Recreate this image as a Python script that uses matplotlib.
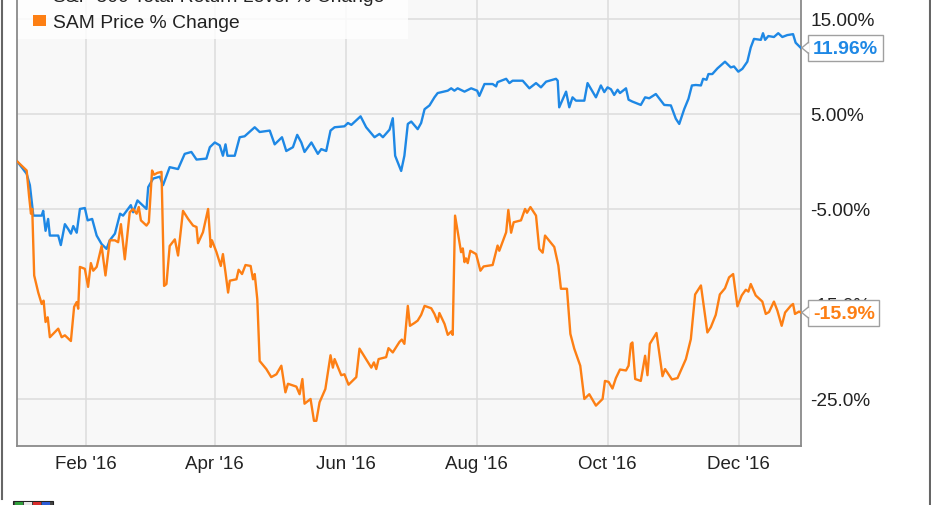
import numpy as np
import pandas as pd
import matplotlib
matplotlib.use("Agg")
import matplotlib.pyplot as plt
from matplotlib.patches import Rectangle, Polygon
from matplotlib.transforms import ScaledTranslation
from matplotlib.lines import Line2D

plt.rcParams['font.family'] = ['Liberation Sans', 'DejaVu Sans']

# ---------------- data (days since 2016-01-01, % change) ----------------
spx_days = [-1, 3.4, 4.9, 6.5, 10.4, 11.1, 12.2, 13.4, 14.2, 18.1, 19.3, 21.2, 22.7, 24.0, 25.1,
            26.7, 28.2, 30.5, 31.8, 33.9, 36.0, 38.3, 40.6, 42.1, 44.5, 46.9, 48.3, 51.9, 53.0,
            55.0, 59.2, 60.0, 62.3, 65.4, 66.9, 70.0, 73.9, 77.0, 80.1, 82.5, 87.1, 88.7, 91.0,
            93.3, 94.8, 96.0, 96.9, 100.3, 102.6, 104.9, 109.6, 111.9, 116.6, 118.9, 122.3,
            124.3, 127.4, 129.4, 131.3, 132.8, 136.0, 139.0, 140.6, 142.9, 144.9, 146.8, 151.4,
            153.0, 154.6, 158.9, 161.5, 165.4, 167.7, 169.3, 172.4, 173.9, 175.0, 177.8, 179.3,
            180.9, 182.5, 185.5, 187.1, 188.7, 191.0, 193.3, 194.8, 199.5, 201.1, 202.6, 204.1,
            207.3, 210.4, 213.2, 214.2, 216.6, 220.4, 222.0, 222.7, 226.7, 228.2, 229.7, 234.4,
            237.5, 240.6, 242.9, 245.3, 249.9, 250.7, 251.4, 254.6, 256.1, 257.6, 259.2, 263.1,
            264.6, 268.5, 270.8, 272.4, 273.9, 275.5, 277.0, 278.6, 279.7, 282.5, 283.7, 285.5,
            289.4, 291.4, 293.3, 296.4, 300.3, 303.4, 305.7, 307.3, 309.6, 311.6, 313.2, 315.0,
            317.4, 318.4, 320.0, 320.9, 322.7, 325.1, 328.6, 331.3, 332.8, 334.8, 336.7, 339.0,
            340.6, 342.1, 345.3, 346.3, 347.3, 348.8, 351.4, 353.4, 355.3, 357.6, 360.3, 361.5,
            363.9]
spx_vals = [0.0, -1.3, -2.5, -5.7, -5.7, -5.2, -7.3, -6.05, -7.8, -7.8, -8.8, -6.6, -7.1, -7.6, -6.8,
            -7.5, -5.0, -4.9, -6.2, -6.05, -7.8, -8.7, -9.2, -8.3, -7.6, -5.5, -5.7, -4.6, -5.35,
            -4.1, -5.0, -2.7, -1.8, -1.6, -2.5, -0.6, -0.8, 0.8, 1.0, 0.2, 0.3, 1.5, 2.0,
            1.7, 0.6, 1.8, 0.6, 0.6, 2.55, 2.65, 3.6, 3.1, 3.25, 1.8, 2.55,
            1.1, 1.5, 2.8, 2.0, 1.0, 2.0, 0.8, 1.3, 1.1, 3.25, 3.6, 3.7,
            4.05, 3.85, 4.75, 3.6, 2.55, 2.9, 2.55, 3.35, 4.55, 0.6, -1.0, 0.6,
            3.95, 4.2, 3.4, 4.05, 5.5, 5.9, 6.75, 7.2, 7.45, 7.7, 7.45, 7.7,
            7.35, 7.7, 7.45, 6.9, 8.15, 8.15, 7.9, 8.35, 8.7, 8.25, 8.5, 8.5,
            7.7, 8.25, 7.8, 8.4, 8.7, 8.5, 5.7, 7.35, 5.7, 6.75, 6.4, 6.4,
            8.25, 6.75, 8.0, 7.3, 7.8, 7.6, 7.0, 7.55, 7.2, 7.7, 6.5, 6.3,
            5.95, 6.75, 6.65, 7.1, 5.95, 5.9, 4.5, 3.95, 5.5, 6.6, 8.0, 8.05,
            8.0, 8.7, 8.6, 9.2, 9.2, 9.8, 10.5, 9.9, 10.0, 9.45, 9.75, 10.5,
            12.0, 12.9, 12.8, 13.5, 12.8, 13.2, 13.1, 13.5, 13.1, 13.3, 13.4, 12.5,
            11.96]

sam_days = [-1, 3.4, 4.5, 5.4, 6.0, 6.9, 8.8, 10.4, 11.3, 12.2, 13.2, 14.2, 18.1, 19.7, 21.2, 24.0,
            25.5, 26.7, 27.4, 28.2, 30.5, 32.0, 33.3, 34.4, 36.0, 38.3, 40.1, 42.1, 44.5, 46.0,
            47.3, 49.1, 51.4, 53.0, 54.6, 55.6, 56.6, 59.2, 60.3, 61.8, 62.7, 64.3, 66.2, 67.4,
            68.5, 70.0, 72.4, 73.9, 76.2, 78.6, 80.9, 82.5, 83.2, 85.5, 87.9, 89.1, 89.7, 91.8,
            93.8, 94.8, 96.0, 97.2, 98.0, 101.1, 102.1, 103.7, 105.3, 107.7, 108.8, 109.6, 110.8,
            111.9, 115.0, 117.3, 119.7, 122.0, 123.9, 125.1, 129.0, 130.5, 131.8, 132.8, 135.6,
            137.2, 138.3, 139.8, 142.5, 144.9, 146.0, 146.8, 149.9, 151.4, 153.3, 156.9, 158.4,
            163.9, 165.1, 166.2, 167.3, 170.8, 171.9, 173.9, 177.0, 178.1, 179.3, 180.9, 181.9,
            184.0, 185.5, 187.1, 188.7, 191.8, 193.3, 194.8, 195.6, 198.0, 199.5, 201.1, 201.8,
            202.9, 205.7, 206.5, 207.3, 208.0, 208.8, 210.0, 212.7, 214.7, 216.2, 220.4, 222.7,
            223.5, 226.7, 227.7, 229.0, 230.2, 233.6, 235.5, 236.4, 238.0, 240.6, 242.1, 243.7,
            244.8, 249.1, 251.0, 252.2, 255.0, 256.6, 258.4, 261.2, 263.1, 265.4, 268.5, 271.6,
            272.7, 274.4, 276.2, 277.8, 279.7, 282.5, 283.7, 284.8, 285.5, 286.8, 289.4, 291.4,
            292.5, 293.6, 296.7, 299.5, 300.7, 303.9, 306.5, 310.4, 312.7, 314.7, 317.4, 320.4,
            322.0, 324.3, 326.2, 328.6, 330.5, 332.4, 334.4, 336.4, 338.3, 339.5, 340.6, 342.9,
            346.0, 347.6, 349.1, 351.4, 353.0, 355.0, 356.6, 359.2, 360.3, 361.2, 363.1, 363.9]
sam_vals = [0.0, -0.95, -3.6, -5.5, -5.0, -12.0, -13.8, -15.0, -14.65, -16.9, -16.4, -18.5, -17.6, -18.5, -18.3, -18.9,
            -15.3, -14.8, -15.5, -11.1, -11.3, -13.2, -10.7, -11.5, -11.1, -8.9, -12.0, -8.3, -8.3, -8.5,
            -6.6, -10.3, -5.35, -5.0, -5.5, -4.8, -6.2, -6.75, -6.4, -0.95, -1.4, -1.2, -1.1, -13.1,
            -12.9, -8.9, -8.2, -9.9, -5.2, -6.05, -6.75, -6.9, -8.6, -7.45, -5.0, -9.0, -8.3, -9.55,
            -11.0, -9.75, -11.7, -13.8, -12.55, -12.4, -11.4, -11.85, -10.9, -11.0, -12.4, -11.85, -14.5,
            -21.0, -21.85, -22.7, -22.4, -21.5, -24.3, -23.4, -23.7, -24.5, -22.9, -25.5, -25.0,
            -27.3, -27.3, -25.35, -23.95, -20.4, -21.7, -20.8, -22.5, -22.4, -23.5, -22.7, -19.7,
            -21.7, -21.15, -21.85, -20.8, -20.6, -19.65, -20.1, -19.0, -18.75, -19.2, -15.2, -17.3,
            -17.0, -16.75, -16.15, -15.2, -15.45, -16.05, -16.9, -15.95, -17.1, -18.25, -17.9, -18.25,
            -5.7, -9.55, -9.15, -10.6, -10.2, -10.7, -9.4, -9.75, -11.5, -11.05, -10.9, -8.85,
            -9.4, -7.45, -5.1, -7.5, -6.4, -6.2, -5.0, -5.4, -4.8, -5.7, -9.2, -9.6,
            -7.8, -9.0, -10.95, -13.4, -13.4, -18.15, -19.7, -21.5, -25.0, -24.5, -25.7, -25.0,
            -23.1, -23.2, -23.9, -22.8, -21.9, -22.0, -21.5, -19.2, -19.05, -22.9, -23.1, -20.45,
            -22.5, -19.2, -18.05, -22.6, -21.85, -22.95, -22.8, -20.8, -18.7, -14.0, -13.05, -18.0,
            -17.45, -16.15, -14.0, -13.35, -12.2, -11.85, -15.25, -14.1, -13.5, -13.7, -12.9, -14.1,
            -14.75, -16.05, -15.85, -14.75, -15.7, -17.3, -15.9, -15.2, -15.0, -16.05, -15.8, -15.9]

series_names = ["S&P 500 Total Return Level % Change", "SAM Price % Change"]
end_labels = ["11.96%", "-15.9%"]
ytick_vals = [15, 5, -5, -15, -25]
ytick_labels = ["15.00%", "5.00%", "-5.00%", "-15.0%", "-25.0%"]
xtick_dates = ["2016-02-01", "2016-04-01", "2016-06-01", "2016-08-01", "2016-10-01", "2016-12-01"]
xtick_labels = ["Feb '16", "Apr '16", "Jun '16", "Aug '16", "Oct '16", "Dec '16"]

# ---------------- styling ----------------
BLUE = '#1e88e5'
ORANGE = '#fd7f14'
W, H = 931, 506
base = pd.Timestamp("2016-01-01")
spx_t = base + pd.to_timedelta(spx_days, unit='D')
sam_t = base + pd.to_timedelta(sam_days, unit='D')

fig = plt.figure(figsize=(W / 100, H / 100), dpi=100)
fig.patch.set_facecolor('white')
ax = fig.add_axes([17 / W, (H - 447) / H, (801 - 17) / W, 447 / H])
ax.set_facecolor('#f8f8f8')

ax.plot(spx_t, spx_vals, color=BLUE, lw=1.7, zorder=3, solid_joinstyle='round')
ax.plot(sam_t, sam_vals, color=ORANGE, lw=1.7, zorder=3, solid_joinstyle='round')

ax.set_xlim(base + pd.Timedelta(days=-1.1), base + pd.Timedelta(days=364.0))
ax.set_ylim(-29.95, 17.1)

ax.yaxis.tick_right()
ax.set_yticks(ytick_vals)
ax.set_yticklabels(ytick_labels)
ax.set_xticks(pd.to_datetime(xtick_dates))
ax.set_xticklabels(xtick_labels)
ax.tick_params(axis='y', length=0, pad=6.5, labelsize=13.7, labelcolor='#222222')
ax.tick_params(axis='x', length=0, pad=6.5, labelsize=13.5, labelcolor='#222222')
ax.grid(True, color='#dcdcdc', lw=1.1, zorder=0)
ax.set_axisbelow(True)

for s in ['left', 'bottom', 'right']:
    ax.spines[s].set_color('#8a8a8a')
    ax.spines[s].set_linewidth(1.3)
ax.spines['top'].set_visible(False)

# legend box (top cut off)
ax.add_patch(Rectangle((0, 1 - 40 / 447), (408 - 17) / 784, 0.2, transform=ax.transAxes,
                       facecolor='white', alpha=0.8, edgecolor='none', zorder=2, clip_on=False))
leg_colors = ['#bcdcf6', ORANGE]
leg_centers = [-4.2, 21.5]
for name, col, cy in zip(series_names, leg_colors, leg_centers):
    fig.patches.append(Rectangle(((33) / W, (H - cy - 5.5) / H), 13 / W, 11 / H,
                                 transform=fig.transFigure, facecolor=col, edgecolor='none'))
    fig.text(53 / W, (H - cy - 6.0) / H, name, fontsize=13.9, color='#222222',
             ha='left', va='baseline')

# end-value callouts
def callout(xd, yv, text, color):
    xnum = matplotlib.dates.date2num(xd)
    ax.annotate(text, xy=(xnum, yv), xytext=(12, -0.5), textcoords='offset pixels',
                ha='left', va='center', fontsize=14, fontweight='bold', color=color,
                bbox=dict(boxstyle='square,pad=0.24', fc='white', ec='#a0a0a0', lw=1.0),
                annotation_clip=False, zorder=6)
    tr = fig.dpi_scale_trans + ScaledTranslation(xnum, yv, ax.transData)
    notch = Polygon([(0.085, 0.05), (0.01, 0.0), (0.085, -0.05)], closed=True,
                    facecolor='white', edgecolor='none', transform=tr, clip_on=False, zorder=7)
    ax.add_patch(notch)
    ax.add_line(Line2D([0.076, 0.01, 0.076], [0.055, 0.0, -0.055], color='#a0a0a0', lw=1.0,
                       transform=tr, clip_on=False, zorder=8))

callout(spx_t[-1], spx_vals[-1], end_labels[0], BLUE)
callout(sam_t[-1], sam_vals[-1], end_labels[1], ORANGE)

# outer frame lines and small logo
fig.lines.append(Line2D([2 / W, 2 / W], [(H - 500) / H, 1], transform=fig.transFigure,
                        color='#666666', lw=1.5))
fig.lines.append(Line2D([929.5 / W, 929.5 / W], [0, 1], transform=fig.transFigure,
                        color='#666666', lw=1.5))
fig.patches.append(Rectangle((13 / W, 0), 40 / W, 4.5 / H, transform=fig.transFigure,
                             facecolor='#444444', edgecolor='#222222', lw=0.8))
for i, c in enumerate(['#2e9e3a', '#e8e8e8', '#d62b2b', '#2b5bd6']):
    fig.patches.append(Rectangle(((15 + i * 9) / W, 0), 8 / W, 3 / H, transform=fig.transFigure,
                                 facecolor=c, edgecolor='none'))

fig.savefig("out.png", dpi=100)
